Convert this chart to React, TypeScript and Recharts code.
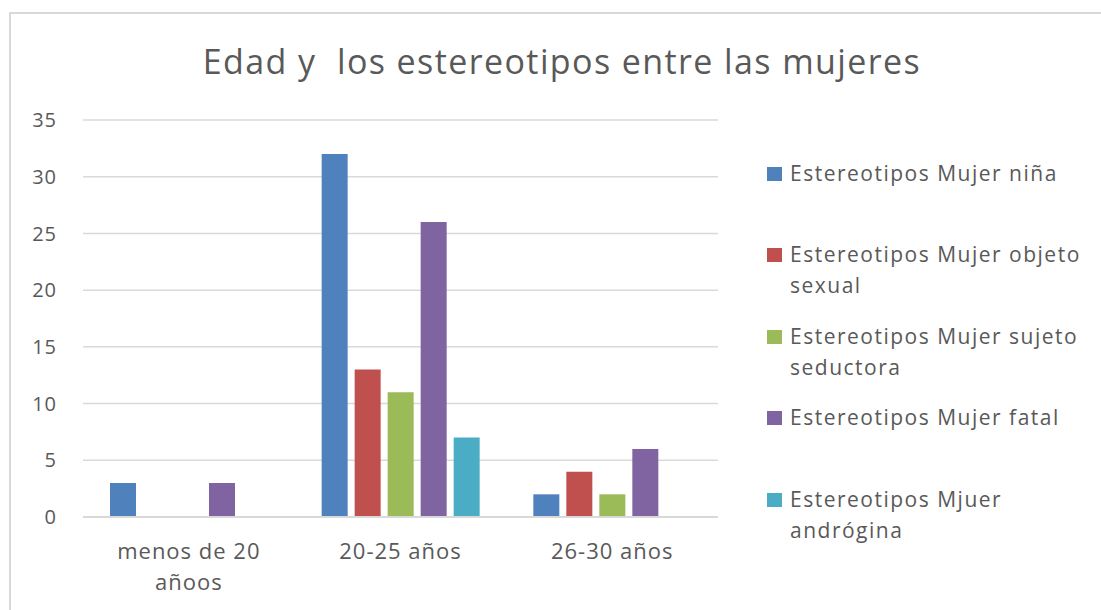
import { Bar, BarChart, CartesianGrid, XAxis, YAxis } from "recharts"

const title = "Edad y  los estereotipos entre las mujeres"
const categories = ["menos de 20 añoos", "20-25 años", "26-30 años"]
const seriesNames = [
    "Estereotipos Mujer niña",
    "Estereotipos Mujer objeto sexual",
    "Estereotipos Mujer sujeto seductora",
    "Estereotipos Mujer fatal",
    "Estereotipos Mjuer andrógina",
]
const ninaValues = [3, 32, 2]
const objetoValues = [0, 13, 4]
const seductoraValues = [0, 11, 2]
const fatalValues = [3, 26, 6]
const androginaValues = [0, 7, 0]
const yTicks = [0, 5, 10, 15, 20, 25, 30, 35]

const colors = ["#4F81BD", "#C0504D", "#9BBB59", "#8064A2", "#4BACC6"]
const keys = ["nina", "objeto", "seductora", "fatal", "androgina"]
const seriesValues = [ninaValues, objetoValues, seductoraValues, fatalValues, androginaValues]

const data = categories.map((category, i) => {
    const row: Record<string, string | number> = { category }
    keys.forEach((k, s) => { row[k] = seriesValues[s][i] })
    return row
})

const font = '"Open Sans", sans-serif'
const textColor = "#595959"

// wrap category labels like Excel does (about 12 chars per line here)
function wrapLabel(label: string, maxChars = 12) {
    const lines: string[] = []
    let cur = ""
    label.split(" ").forEach((w) => {
        const next = cur ? cur + " " + w : w
        if (next.length > maxChars && cur) {
            lines.push(cur)
            cur = w
        } else {
            cur = next
        }
    })
    if (cur) lines.push(cur)
    return lines
}

function XTick(props: any) {
    const { x, y, payload } = props
    const lines = wrapLabel(String(payload.value))
    return (
        <text
            x={x}
            y={y + 34}
            textAnchor="middle"
            fill={textColor}
            style={{ fontSize: 22, letterSpacing: 1, fontFamily: font }}
        >
            {lines.map((line, i) => (
                <tspan key={i} x={x} dy={i === 0 ? 0 : 31}>{line}</tspan>
            ))}
        </text>
    )
}

export default function App() {
    return (
        <div style={{ position: "absolute", left: 0, top: 0, width: 1101, height: 610, overflow: "hidden", background: "#fff", fontFamily: font }}>
            <div style={{ position: "absolute", left: 9, top: 12, width: 1200, height: 700, borderLeft: "2px solid #d9d9d9", borderTop: "2px solid #d9d9d9" }} />
            <div style={{ position: "absolute", left: 0, top: 44, width: 1124, textAlign: "center", fontSize: 34, lineHeight: "34px", letterSpacing: 1.4, color: textColor, whiteSpace: "pre" }}>
                {title}
            </div>
            <div style={{ position: "absolute", left: 0, top: 0 }}>
                <BarChart
                    width={1101}
                    height={610}
                    data={data}
                    margin={{ top: 120, right: 383, bottom: 0, left: 0 }}
                    barGap={7}
                    barCategoryGap={27}
                >
                    <CartesianGrid vertical={false} stroke="#d9d9d9" strokeWidth={1.5} />
                    <XAxis
                        dataKey="category"
                        height={93}
                        axisLine={{ stroke: "#d9d9d9", strokeWidth: 2 }}
                        tickLine={false}
                        interval={0}
                        tick={<XTick />}
                    />
                    <YAxis
                        width={83}
                        domain={[0, 35]}
                        ticks={yTicks}
                        axisLine={false}
                        tickLine={false}
                        tickMargin={20}
                        tick={{ fill: textColor, fontSize: 20, fontFamily: font, letterSpacing: 1 }}
                    />
                    {keys.map((k, s) => (
                        <Bar key={k} dataKey={k} name={seriesNames[s]} fill={colors[s]} isAnimationActive={false} />
                    ))}
                </BarChart>
            </div>
            {seriesNames.map((name, s) => (
                <div key={name} style={{ position: "absolute", left: 767, top: 158 + s * 81.4, display: "flex", alignItems: "flex-start" }}>
                    <div style={{ width: 15, height: 14, background: colors[s], marginTop: 9 }} />
                    <div style={{ marginLeft: 8, width: 310, fontSize: 21, lineHeight: "31px", color: textColor, letterSpacing: 1.5 }}>
                        {name}
                    </div>
                </div>
            ))}
        </div>
    )
}
